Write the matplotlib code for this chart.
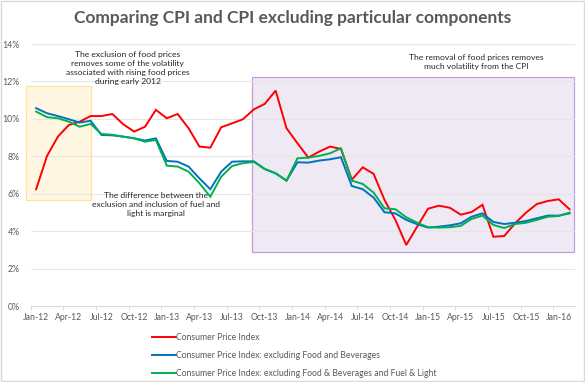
import matplotlib
matplotlib.use("Agg")
import matplotlib.pyplot as plt
from matplotlib.patches import Rectangle
import numpy as np

months = ["Jan", "Feb", "Mar", "Apr", "May", "Jun", "Jul", "Aug", "Sep", "Oct", "Nov", "Dec"]
dates = [f"{months[m]}-{12 + y}" for y in range(5) for m in range(12)][:50]  # Jan-12 .. Feb-16

cpi = [6.24, 8.02, 9.05, 9.67, 9.85, 10.15, 10.15, 10.26, 9.71, 9.32, 9.58, 10.48,
       10.03, 10.26, 9.50, 8.52, 8.46, 9.55, 9.76, 9.98, 10.51, 10.80, 11.51, 9.50,
       8.70, 7.93, 8.25, 8.52, 8.39, 6.75, 7.41, 7.06, 5.67, 4.60, 3.26, 4.24,
       5.20, 5.36, 5.25, 4.88, 5.02, 5.41, 3.70, 3.74, 4.42, 4.99, 5.45, 5.61,
       5.70, 5.17]
cpi_ex_food = [10.57, 10.30, 10.15, 9.98, 9.80, 9.90, 9.14, 9.12, 9.05, 8.96, 8.84, 8.96,
               7.75, 7.71, 7.45, 6.82, 6.24, 7.18, 7.71, 7.73, 7.73, 7.32, 7.09, 6.70,
               7.68, 7.66, 7.77, 7.84, 7.95, 6.41, 6.24, 5.79, 5.01, 4.95, 4.60, 4.37,
               4.19, 4.24, 4.31, 4.42, 4.77, 4.95, 4.49, 4.38, 4.45, 4.54, 4.69, 4.83,
               4.83, 4.95]
cpi_ex_food_fuel = [10.39, 10.09, 10.03, 9.85, 9.58, 9.73, 9.19, 9.15, 9.05, 8.96, 8.78, 8.87,
                    7.50, 7.45, 7.18, 6.56, 5.84, 6.91, 7.48, 7.63, 7.70, 7.32, 7.09, 6.70,
                    7.89, 7.93, 8.02, 8.16, 8.43, 6.70, 6.52, 6.06, 5.22, 5.17, 4.74, 4.45,
                    4.21, 4.19, 4.21, 4.28, 4.65, 4.83, 4.33, 4.17, 4.38, 4.45, 4.60, 4.77,
                    4.81, 4.99]

series_names = ["Consumer Price Index",
                "Consumer Price Index: excluding Food and Beverages",
                "Consumer Price Index: excluding Food & Beverages and Fuel & Light"]
series_colors = ["#FF0000", "#0070C0", "#00B050"]
yticks = [0, 2, 4, 6, 8, 10, 12, 14]

FONT = ["Lato", "DejaVu Sans"]
plt.rcParams["font.family"] = FONT
gray = "#595959"

fig = plt.figure(figsize=(5.85, 3.82), dpi=100)
ax = fig.add_axes([30.7 / 585, 1 - 306 / 382, (575 - 30.7) / 585, (306 - 44) / 382])

x = np.arange(len(dates))
for vals, name, col in zip([cpi, cpi_ex_food, cpi_ex_food_fuel], series_names, series_colors):
    ax.plot(x, vals, color=col, lw=1.4, label=name, zorder=3, solid_joinstyle="miter")

ax.set_xlim(-0.5, len(dates) - 0.5)
ax.set_ylim(0, 14)
ax.set_yticks(yticks)
ax.set_yticklabels([f"{v}%" for v in yticks], fontsize=6.3, color=gray)
ax.set_xticks(x[::3])
ax.set_xticklabels(dates[::3], fontsize=6.2, color=gray)
ax.set_xticks(np.arange(-0.5, len(dates), 3), minor=True)
ax.tick_params(axis="x", which="major", length=0, pad=5)
ax.tick_params(axis="x", which="minor", length=3, color="#D9D9D9", direction="out")
ax.tick_params(axis="y", length=0, pad=8)
ax.grid(axis="y", color="#E6E6E6", lw=0.8, zorder=0)
for s in ["top", "right", "left"]:
    ax.spines[s].set_visible(False)
ax.spines["bottom"].set_color("#D9D9D9")

# annotation boxes
ax.add_patch(Rectangle((-0.94, 5.67), 5.94, 6.11, facecolor="#FFF6DC", edgecolor="#FFE08A",
                       lw=0.9, alpha=0.85, zorder=1, clip_on=False))
ax.add_patch(Rectangle((19.8, 2.87), 29.6, 9.35, facecolor="#EDE6F3", edgecolor="#B58FD8",
                       lw=0.9, alpha=0.85, zorder=1, clip_on=False))

ax.text(8.4, 13.62, "The exclusion of food prices\nremoves some of the volatility\nassociated with rising food prices\nduring early 2012",
        ha="center", va="top", fontsize=6.1, color="#262626", linespacing=1.3, zorder=4)
ax.text(11.0, 6.08, "The difference between the\nexclusion and inclusion of fuel and\nlight is marginal",
        ha="center", va="top", fontsize=6.1, color="#262626", linespacing=1.3, zorder=4)
ax.text(40.4, 13.45, "The removal of food prices removes\nmuch volatility from the CPI",
        ha="center", va="top", fontsize=6.1, color="#262626", linespacing=1.3, zorder=4)

fig.text(0.5, 1 - 18 / 382, "Comparing CPI and CPI excluding particular components",
         ha="center", va="center", fontsize=12.5, fontweight="bold", color=gray)

fig.legend(loc="upper left", bbox_to_anchor=(152 / 585, 1 - 333 / 382), frameon=False,
           fontsize=6.2, handlelength=2.8, handletextpad=0.0, labelspacing=1.05,
           borderpad=0, borderaxespad=0, labelcolor=gray)

fig.add_artist(Rectangle((0.001, 0.002), 0.997, 0.996, transform=fig.transFigure,
                         fill=False, edgecolor="#D9D9D9", lw=1.0))

fig.savefig("out.png", dpi=100)
